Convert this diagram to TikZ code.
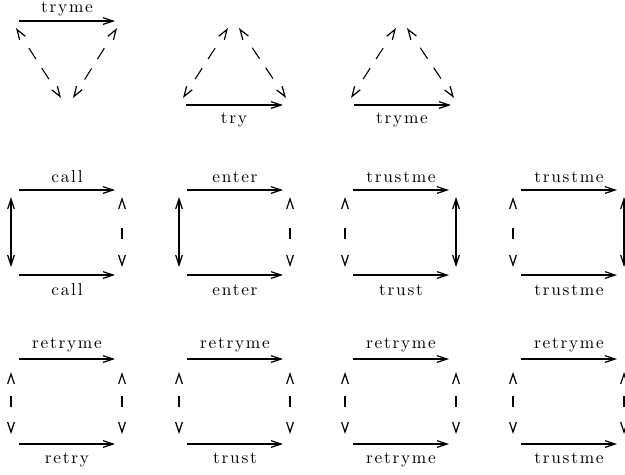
\documentclass[tikz,border=0pt]{standalone}
\usepackage{fontspec}
\newfontfamily\lblfont{lmroman10-regular.otf}[LetterSpace=10]
\usetikzlibrary{arrows.meta}

\begin{document}
\begin{tikzpicture}[
  x=0.75pt, y=-0.75pt,
  >={Straight Barb[length=7.5pt, width=5pt, line width=0.9pt]},
  strong/.style={->, line width=2.2pt},
  plain/.style={->, line width=1.5pt},
  link/.style={<->, line width=1.5pt},
  maybe/.style={<->, line width=0.8pt, dash pattern=on 0pt off #1 on 8.5pt off 100pt},
  maybe/.default=21pt,
  slant/.style={<->, line width=0.8pt,
                dash pattern=on 0pt off 16pt on 9.75pt off 8.25pt on 9.75pt off 100pt},
  lbl/.style={font=\lblfont\fontsize{13}{15}\selectfont}
]
\useasboundingbox (0,0) rectangle (625,475);

% first row: the three triangles
\coordinate (t1a) at (19,21);   \coordinate (t1b) at (115,21);
\coordinate (t1l) at (16,28);   \coordinate (t1m) at (61,98);
\coordinate (t1n) at (73,98);   \coordinate (t1r) at (117,28);
\node[lbl, anchor=base] (t1lab) at (67,12) {tryme};
\draw[strong] (t1a) -- (t1b);
\draw[slant] (t1l) -- (t1m);
\draw[slant] (t1r) -- (t1n);

\foreach \t/\dx/\word in {2/0/try, 3/168/tryme} {
  \coordinate (t\t a) at (186+\dx,105);  \coordinate (t\t b) at (283+\dx,105);
  \coordinate (t\t l) at (183+\dx,98);   \coordinate (t\t m) at (228+\dx,28);
  \coordinate (t\t n) at (239+\dx,28);   \coordinate (t\t r) at (286+\dx,98);
  \node[lbl, anchor=base] (t\t lab) at (234+\dx,123) {\word};
  \draw[strong] (t\t a) -- (t\t b);
  \draw[slant] (t\t m) -- (t\t l);
  \draw[slant] (t\t n) -- (t\t r);
}

% second row
\foreach \c/\x/\up/\dn/\lft/\rgt in {1/11/call/call/link/maybe,
    2/179/enter/enter/link/maybe, 3/345/trustme/trust/maybe/link,
    4/513/trustme/trustme/maybe/link} {
  \coordinate (p\c a) at (\x+8,190);   \coordinate (p\c b) at (\x+104,190);
  \coordinate (p\c c) at (\x+8,275);   \coordinate (p\c d) at (\x+104,275);
  \coordinate (p\c e) at (\x,197);     \coordinate (p\c f) at (\x,267);
  \coordinate (p\c g) at (\x+111,197); \coordinate (p\c h) at (\x+111,267);
  \node[lbl, anchor=base] (p\c up) at (\x+56,182) {\up};
  \node[lbl, anchor=base] (p\c dn) at (\x+56,295) {\dn};
  \draw[strong] (p\c a) -- (p\c b);
  \draw[plain] (p\c c) -- (p\c d);
  \draw[\lft] (p\c e) -- (p\c f);
  \draw[\rgt] (p\c g) -- (p\c h);
}

% third row
\foreach \c/\x/\dn in {1/11/retry, 2/179/trust, 3/345/retryme, 4/513/trustme} {
  \coordinate (q\c a) at (\x+8,359);   \coordinate (q\c b) at (\x+104,359);
  \coordinate (q\c c) at (\x+8,444);   \coordinate (q\c d) at (\x+104,444);
  \coordinate (q\c e) at (\x,372);     \coordinate (q\c f) at (\x,434);
  \coordinate (q\c g) at (\x+111,372); \coordinate (q\c h) at (\x+111,434);
  \node[lbl, anchor=base] (q\c up) at (\x+56,348) {retryme};
  \node[lbl, anchor=base] (q\c dn) at (\x+56,463) {\dn};
  \draw[strong] (q\c a) -- (q\c b);
  \draw[plain] (q\c c) -- (q\c d);
  \draw[maybe=16pt] (q\c e) -- (q\c f);
  \draw[maybe=16pt] (q\c g) -- (q\c h);
}

\end{tikzpicture}
\end{document}
